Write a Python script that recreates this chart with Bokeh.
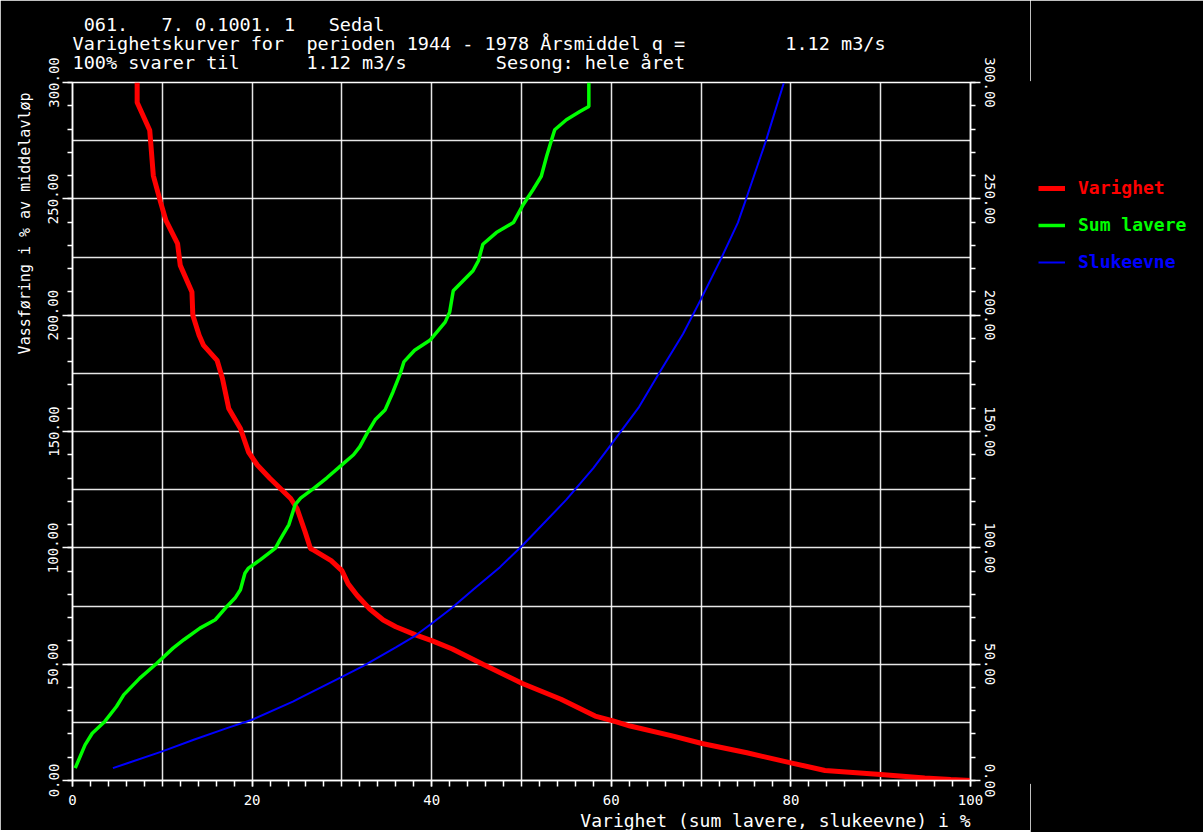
import re
from bokeh.plotting import figure
from bokeh.layouts import row
from bokeh.models import (LinearAxis, Range1d, SingleIntervalTicker, Legend, LegendItem,
                          PrintfTickFormatter, Grid, Title)
from bokeh.embed import file_html
from bokeh.resources import INLINE

# ---------------- data ----------------
varighet_x = [7.2, 7.2, 8.6, 9.0, 9.8, 10.4, 11.7, 12.0, 13.3, 13.4, 14.1, 14.6, 16.1, 16.7,
              17.4, 18.7, 19.6, 20.6, 22.0, 24.3, 25.0, 25.9, 26.5, 26.9, 28.8, 30.0, 30.7,
              31.7, 33.1, 34.6, 36.0, 38.2, 40.0, 42.3, 45.7, 50.1, 54.4, 58.2, 60.2, 62.1,
              66.9, 70.1, 75.1, 80.0, 83.8, 90.0, 94.9, 97.8, 100.0]
varighet_y = [300, 291.4, 279.5, 260, 248.7, 240.7, 230.8, 221.4, 210, 200, 191.4, 187, 180.6,
              172.8, 159.9, 151.3, 141.2, 135.5, 129.8, 121.2, 116.9, 106.9, 99.7, 98.9, 94.5,
              90.2, 84.5, 79.5, 73.7, 69.0, 66.1, 62.6, 60.1, 56.5, 50.0, 41.7, 34.9, 27.7,
              25.6, 23.4, 19.1, 15.9, 11.9, 7.6, 4.3, 2.6, 1.1, 0.4, 0.0]

sum_lavere_x = [0.3, 1.4, 2.2, 3.6, 4.9, 5.7, 7.5, 9.4, 11.2, 12.4, 14.2, 15.9, 17.2, 18.1,
                18.7, 19.2, 19.6, 20.9, 22.6, 23.1, 24.1, 24.8, 25.4, 26.9, 28.3, 29.8, 31.3,
                32.0, 32.8, 33.7, 34.8, 35.7, 36.5, 36.9, 38.1, 39.8, 41.5, 42.0, 42.4, 44.6,
                45.2, 45.7, 47.2, 49.1, 50.2, 51.3, 52.2, 52.8, 53.3, 53.7, 55.0, 56.5, 57.5,
                57.5]
sum_lavere_y = [5.3, 15.3, 20.3, 25.4, 31.8, 36.8, 44.0, 50.4, 56.9, 60.5, 65.5, 69.1, 74.8,
                78.4, 82.0, 89.1, 91.3, 94.8, 99.9, 103.4, 110.0, 118.6, 121.4, 125.7, 130.0,
                135.0, 140.0, 143.5, 149.2, 155.0, 159.2, 167.1, 174.9, 179.9, 184.9, 189.2,
                197.0, 201.3, 210.5, 219.1, 223.4, 230.5, 235.5, 239.8, 247.6, 254.0, 259.7,
                268.3, 274.7, 279.7, 284.0, 287.5, 289.7, 300.0]

slukeevne_x = [4.5, 6.1, 10.0, 13.5, 17.2, 20.0, 24.6, 25.4, 30.0, 32.4, 36.0, 38.2, 40.0,
               42.1, 44.7, 47.6, 50.1, 55.0, 58.0, 60.1, 63.1, 65.4, 68.0, 70.0, 72.2, 74.1,
               75.0, 77.2, 79.2]
slukeevne_y = [5.3, 7.4, 12.5, 17.5, 22.5, 26.1, 34.0, 35.6, 44.5, 49.3, 57.2, 62.3, 67.5,
               73.7, 82.3, 91.7, 101.0, 120.7, 134.3, 145.0, 160.6, 175.6, 192.0, 207.0,
               224.1, 239.8, 249.8, 274.7, 299.7]

series_names = ["Varighet", "Sum lavere", "Slukeevne"]
series_colors = ["#ff0000", "#00ff00", "#0000ff"]
series_widths = [5, 3.5, 2]

title_lines = [" 061.   7. 0.1001. 1   Sedal",
               "Varighetskurver for  perioden 1944 - 1978 Årsmiddel q =         1.12 m3/s",
               "100% svarer til      1.12 m3/s        Sesong: hele året"]
y_title = "Vassføring i % av middelavløp"
x_title = "Varighet (sum lavere, slukeevne) i %"

MONO = "DejaVu Sans Mono"


def keep_spaces(s):
    # runs of spaces (and leading spaces) -> no-break spaces so they are not collapsed
    s = re.sub(r"^ +", lambda m: "\u00a0" * len(m.group()), s)
    return re.sub(r" {2,}", lambda m: " " + "\u00a0" * (len(m.group()) - 1), s)


# ---------------- main figure ----------------
p = figure(frame_width=898, frame_height=698,
           x_range=Range1d(0, 100), y_range=Range1d(0, 300),
           x_axis_type=None, y_axis_type=None, title_location=None,
           output_backend="svg", toolbar_location=None,
           background_fill_color="black", border_fill_color="black",
           min_border_left=72, min_border_right=60, min_border_top=82, min_border_bottom=50)
p.outline_line_color = "white"
p.outline_line_width = 1.5

p.add_layout(Grid(dimension=0, ticker=SingleIntervalTicker(interval=10),
                  grid_line_color="white", grid_line_alpha=0.9, grid_line_width=1.5), "center")
p.add_layout(Grid(dimension=1, ticker=SingleIntervalTicker(interval=25),
                  grid_line_color="white", grid_line_alpha=0.9, grid_line_width=1.5), "center")


def style_axis(ax):
    ax.axis_line_color = "white"
    ax.axis_line_width = 1.5
    ax.major_tick_line_color = "white"
    ax.minor_tick_line_color = "white"
    ax.major_tick_line_width = 1.5
    ax.minor_tick_line_width = 1.5
    ax.major_tick_in = 0
    ax.minor_tick_in = 0
    ax.major_label_text_color = "white"
    ax.major_label_text_font = MONO
    ax.major_label_text_font_size = "14px"


xaxis = LinearAxis(ticker=SingleIntervalTicker(interval=20, num_minor_ticks=10))
style_axis(xaxis)
xaxis.major_tick_out = 6
xaxis.minor_tick_out = 6
xaxis.major_label_standoff = 8
p.add_layout(xaxis, "below")

for side in ("left", "right"):
    ax = LinearAxis(ticker=SingleIntervalTicker(interval=50, num_minor_ticks=5),
                    formatter=PrintfTickFormatter(format="%.2f"))
    style_axis(ax)
    ax.major_tick_out = 10
    ax.minor_tick_out = 5
    ax.major_label_standoff = 4
    ax.major_label_orientation = "vertical"
    p.add_layout(ax, side)

# axis titles as side-panel titles (outside the axes), aligned to the far end
p.add_layout(Title(text=x_title, align="right", text_font=MONO, text_font_size="18px",
                   text_font_style="normal", text_color="white", standoff=0), "below")
p.add_layout(Title(text=y_title, align="right", offset=10, text_font=MONO,
                   text_font_size="15px", text_font_style="normal", text_color="white",
                   standoff=23), "left")

renderers = []
for xs, ys, col, w in zip([varighet_x, sum_lavere_x, slukeevne_x],
                          [varighet_y, sum_lavere_y, slukeevne_y],
                          series_colors, series_widths):
    renderers.append(p.line(xs, ys, line_color=col, line_width=w))

# three header lines as one multi-line title
head = Title(text="\n".join(keep_spaces(t) for t in title_lines), align="left",
             text_font=MONO, text_font_size="18.5px", text_font_style="normal",
             text_color="white", standoff=19)
try:
    head.text_line_height = 0.91
except Exception:
    pass
p.add_layout(head, "above")

# ---------------- legend panel ----------------
lg = figure(width=173, height=832, x_range=Range1d(0, 1), y_range=Range1d(0, 1),
            x_axis_type=None, y_axis_type=None, title_location=None,
            output_backend="svg", toolbar_location=None,
            background_fill_color="black", border_fill_color="black", min_border=0)
lg.outline_line_color = "black"
lg.outline_line_width = 3
legend_bottoms = [584, 547, 510]
for name, col, w, yb in zip(series_names, series_colors, series_widths, legend_bottoms):
    # off-range proxy line that only supplies the legend swatch style
    proxy = lg.line([-5, -4], [-5, -4], line_color=col, line_width=w)
    leg = Legend(items=[LegendItem(label=name, renderers=[proxy])], location=(8, yb),
                 background_fill_alpha=0, border_line_alpha=0, padding=0, margin=0,
                 glyph_width=27, glyph_height=20, label_standoff=13,
                 label_text_color=col, label_text_font=MONO,
                 label_text_font_style="bold", label_text_font_size="18px")
    lg.add_layout(leg, "center")

layout = row(p, lg, spacing=0)
open("out.html", "w").write(file_html(layout, INLINE))
